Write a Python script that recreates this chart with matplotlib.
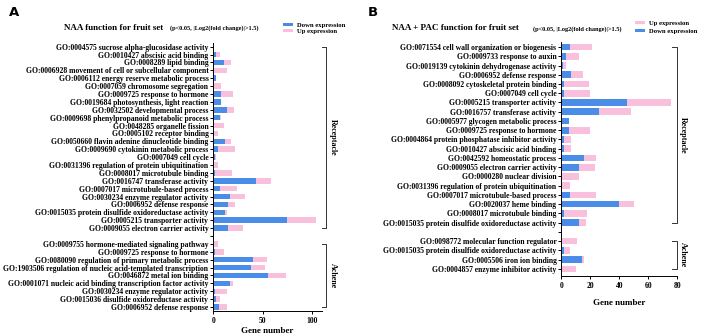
import numpy as np
import matplotlib
matplotlib.use('Agg')
import matplotlib.pyplot as plt
from matplotlib.patches import Patch

plt.rcParams['font.family'] = ['Liberation Serif', 'DejaVu Serif']
plt.rcParams['font.weight'] = 'bold'

BLUE = '#4a8de8'
PINK = '#f8c0dd'

# Panel A: NAA
a_rec_terms = [
    "GO:0004575 sucrose alpha-glucosidase activity",
    "GO:0010427 abscisic acid binding",
    "GO:0008289 lipid binding",
    "GO:0006928 movement of cell or subcellular component",
    "GO:0006112 energy reserve metabolic process",
    "GO:0007059 chromosome segregation",
    "GO:0009725 response to hormone",
    "GO:0019684 photosynthesis, light reaction",
    "GO:0032502 developmental process",
    "GO:0009698 phenylpropanoid metabolic process",
    "GO:0048285 organelle fission",
    "GO:0005102 receptor binding",
    "GO:0050660 flavin adenine dinucleotide binding",
    "GO:0009690 cytokinin metabolic process",
    "GO:0007049 cell cycle",
    "GO:0031396 regulation of protein ubiquitination",
    "GO:0008017 microtubule binding",
    "GO:0016747 transferase activity",
    "GO:0007017 microtubule-based process",
    "GO:0030234 enzyme regulator activity",
    "GO:0006952 defense response",
    "GO:0015035 protein disulfide oxidoreductase activity",
    "GO:0005215 transporter activity",
    "GO:0009055 electron carrier activity",
]
a_rec_down = [0, 3, 11, 0, 3, 0, 8, 8, 14, 7, 0, 1, 12, 5, 2, 0, 2, 43, 7, 17, 15, 12, 75, 15]
a_rec_up = [1, 4, 7, 14, 0, 8, 12, 0, 7, 1, 11, 4, 6, 17, 1, 5, 17, 16, 17, 15, 7, 2, 29, 15]

a_ach_terms = [
    "GO:0009755 hormone-mediated signaling pathway",
    "GO:0009725 response to hormone",
    "GO:0080090 regulation of primary metabolic process",
    "GO:1903506 regulation of nucleic acid-templated transcription",
    "GO:0046872 metal ion binding",
    "GO:0001071 nucleic acid binding transcription factor activity",
    "GO:0030234 enzyme regulator activity",
    "GO:0015036 disulfide oxidoreductase activity",
    "GO:0006952 defense response",
]
a_ach_down = [0, 2, 40, 38, 55, 17, 2, 3, 6]
a_ach_up = [5, 9, 14, 14, 19, 3, 12, 4, 8]

# Panel B: NAA + PAC
b_rec_terms = [
    "GO:0071554 cell wall organization or biogenesis",
    "GO:0009733 response to auxin",
    "GO:0019139 cytokinin dehydrogenase activity",
    "GO:0006952 defense response",
    "GO:0008092 cytoskeletal protein binding",
    "GO:0007049 cell cycle",
    "GO:0005215 transporter activity",
    "GO:0016757 transferase activity",
    "GO:0005977 glycogen metabolic process",
    "GO:0009725 response to hormone",
    "GO:0004864 protein phosphatase inhibitor activity",
    "GO:0010427 abscisic acid binding",
    "GO:0042592 homeostatic process",
    "GO:0009055 electron carrier activity",
    "GO:0000280 nuclear division",
    "GO:0031396 regulation of protein ubiquitination",
    "GO:0007017 microtubule-based process",
    "GO:0020037 heme binding",
    "GO:0008017 microtubule binding",
    "GO:0015035 protein disulfide oxidoreductase activity",
]
b_rec_down = [6, 3, 1, 7, 2, 2, 45, 26, 5, 5, 2, 2, 16, 12, 0, 0, 6, 40, 2, 12]
b_rec_up = [15, 9, 2, 8, 17, 18, 31, 22, 0, 15, 5, 5, 8, 11, 12, 6, 18, 10, 16, 5]

b_ach_terms = [
    "GO:0098772 molecular function regulator",
    "GO:0015035 protein disulfide oxidoreductase activity",
    "GO:0005506 iron ion binding",
    "GO:0004857 enzyme inhibitor activity",
]
b_ach_down = [0, 2, 14, 0]
b_ach_up = [11, 4, 2, 10]


def draw_panel(ax, rec_terms, rec_down, rec_up, ach_terms, ach_down, ach_up,
               xmax, xticks, bar_h, brk):
    terms = rec_terms + [""] + ach_terms
    down = np.array(rec_down + [0] + ach_down, dtype=float)
    up = np.array(rec_up + [0] + ach_up, dtype=float)
    ypos = np.arange(len(terms))
    ax.barh(ypos, down, height=bar_h, color=BLUE, linewidth=0)
    ax.barh(ypos, up, left=down, height=bar_h, color=PINK, linewidth=0)
    ax.set_yticks(ypos)
    ax.set_yticklabels(terms, fontsize=5.5, fontweight='bold')
    ax.set_xlim(0, xmax)
    ax.set_ylim(len(terms) - 1 + brk['pad_bottom'], -0.5)
    ax.set_xticks(xticks)
    ax.tick_params(axis='x', labelsize=5.5, length=2.5, width=0.7, pad=2)
    ax.tick_params(axis='y', length=2.5, width=0.7, pad=1)
    for lab in ax.get_xticklabels():
        lab.set_fontweight('bold')
    ax.spines['top'].set_visible(False)
    ax.spines['right'].set_visible(False)
    ax.spines['left'].set_linewidth(0.7)
    ax.spines['bottom'].set_linewidth(0.7)
    ax.set_xlabel("Gene number", fontsize=6.5, fontweight='bold', labelpad=brk['labelpad'])

    # group brackets
    n_rec = len(rec_terms)
    groups = [(0, n_rec - 1, "Receptacle"), (n_rec + 1, len(terms) - 1, "Achene")]
    xv, xt, xl = brk['x_vert'], brk['x_tick'], brk['x_label']
    for y0, y1, name in groups:
        ax.plot([xt, xv, xv, xt], [y0, y0, y1, y1], color='#333333', lw=0.7,
                clip_on=False)
        ax.text(xl, (y0 + y1) / 2, name, rotation=270, ha='center', va='center',
                fontsize=5.8, fontweight='bold')


fig = plt.figure(figsize=(7.08, 3.36), dpi=100)
W, H = 708.0, 336.0

axA = fig.add_axes([213.3 / W, 1 - 311.0 / H, 108.4 / W, (311.0 - 42.7) / H])
draw_panel(axA, a_rec_terms, a_rec_down, a_rec_up, a_ach_terms, a_ach_down, a_ach_up,
           110, [0, 50, 100], 0.7,
           dict(pad_bottom=0.5, labelpad=1.5, x_vert=114.3, x_tick=110.3, x_label=121.0))

axB = fig.add_axes([561.3 / W, 1 - 275.5 / H, 116.0 / W, (275.5 - 42.4) / H])
draw_panel(axB, b_rec_terms, b_rec_down, b_rec_up, b_ach_terms, b_ach_down, b_ach_up,
           80, [0, 20, 40, 60, 80], 0.72,
           dict(pad_bottom=0.72, labelpad=7, x_vert=79.8, x_tick=76.2, x_label=84.2))

# titles
fig.text(64 / W, 1 - 27.5 / H, "NAA function for fruit set", fontsize=6.5,
         fontweight='bold', va='center', ha='left')
fig.text(170 / W, 1 - 28 / H, "(p<0.05, |Log2(fold change)|>1.5)", fontsize=4.5,
         fontweight='bold', va='center', ha='left')
fig.text(392 / W, 1 - 28.5 / H, "NAA + PAC function for fruit set", fontsize=6.5,
         fontweight='bold', va='center', ha='left')
fig.text(533 / W, 1 - 29 / H, "(p<0.05, |Log2(fold change)|>1.5)", fontsize=4.5,
         fontweight='bold', va='center', ha='left')

# panel letters
fig.text(9 / W, 1 - 12 / H, "A", fontsize=9.5, fontweight='bold', family='DejaVu Sans',
         va='center', ha='left')
fig.text(368 / W, 1 - 12 / H, "B", fontsize=9.5, fontweight='bold', family='DejaVu Sans',
         va='center', ha='left')

# legends
leg_kw = dict(frameon=False, fontsize=4.8, handlelength=1.5, handleheight=0.35,
              handletextpad=0.6, borderpad=0, borderaxespad=0)
h_down = Patch(facecolor=BLUE, label="Down expression")
h_up = Patch(facecolor=PINK, label="Up expression")
legA = fig.legend(handles=[h_down, h_up], loc='upper left',
                  bbox_to_anchor=(283 / W, 1 - 23 / H), labelspacing=0.15, **leg_kw)
legB = fig.legend(handles=[h_up, h_down], loc='upper left',
                  bbox_to_anchor=(635 / W, 1 - 21 / H), labelspacing=0.45, **leg_kw)
for leg in (legA, legB):
    for t in leg.get_texts():
        t.set_fontweight('bold')

fig.savefig('out.png', dpi=100)
